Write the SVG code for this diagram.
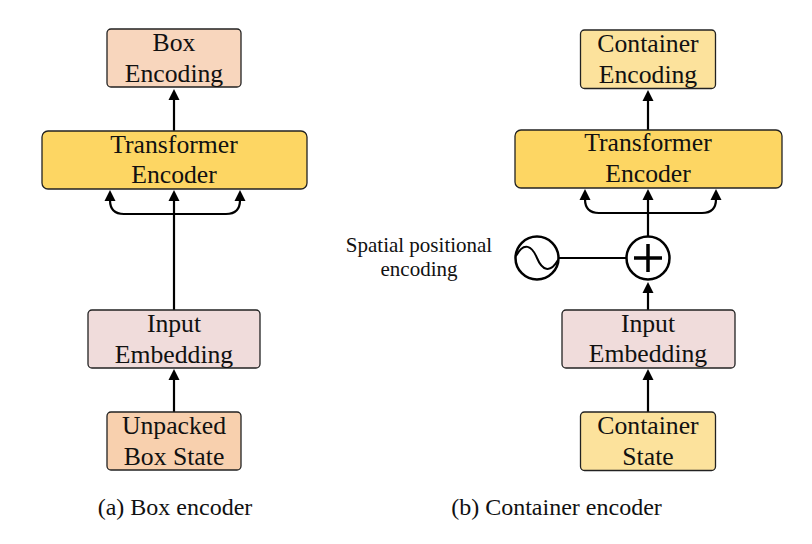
<svg xmlns="http://www.w3.org/2000/svg" width="812" height="544" viewBox="0 0 812 544">
<style>
.b{stroke:#222;stroke-width:1.3}
.t{font-family:"Liberation Serif",serif;font-size:25.7px;fill:#111;text-anchor:middle}
.c{font-family:"Liberation Serif",serif;font-size:24px;fill:#111;text-anchor:middle}
.s{font-family:"Liberation Serif",serif;font-size:21px;fill:#111;text-anchor:middle}
.l{fill:none;stroke:#000;stroke-width:2.2}
</style>
<rect width="812" height="544" fill="#fff"/>
<g id="connectors">
<path class="l" d="M174 131V95"/>
<path class="l" d="M174 310V197"/>
<path class="l" d="M174 412V375"/>
<path class="l" d="M174 214H124Q110 214 110 200V197M174 214H226Q240 214 240 200V197"/>
<path class="l" d="M648 130V95"/>
<path class="l" d="M648 236V195"/>
<path class="l" d="M648 310V288"/>
<path class="l" d="M648 412V375"/>
<path class="l" d="M648 213H599Q585 213 585 199V195M648 213H702Q716 213 716 199V195"/>
<path class="l" d="M558 258H626"/>
<g fill="#000"><path d="M174 89l5.500 11h-11z"/><path d="M174 190l5.500 11h-11z"/><path d="M110 190l5.500 11h-11z"/><path d="M240 190l5.500 11h-11z"/><path d="M174 369l5.500 11h-11z"/>
<path d="M648 90l5.500 11h-11z"/><path d="M648 189l5.500 11h-11z"/><path d="M585 189l5.500 11h-11z"/><path d="M716 189l5.500 11h-11z"/><path d="M648 282l5.500 11h-11z"/><path d="M648 369l5.500 11h-11z"/></g>
</g>
<g id="box-encoding"><rect class="b" x="107" y="29" width="134" height="58" rx="4" fill="#f8d6bd"/><text class="t" x="174" y="51">Box</text><text class="t" x="174" y="82">Encoding</text></g>
<g id="transformer-a"><rect class="b" x="42" y="131" width="265" height="58" rx="6" fill="#fdd663"/><text class="t" x="174" y="153">Transformer</text><text class="t" x="174" y="183">Encoder</text></g>
<g id="input-a"><rect class="b" x="88" y="310" width="172" height="58" rx="4" fill="#f0dcdb"/><text class="t" x="174" y="332">Input</text><text class="t" x="174" y="363">Embedding</text></g>
<g id="unpacked"><rect class="b" x="107" y="412" width="134" height="58" rx="4" fill="#f8d0ae"/><text class="t" x="174" y="434">Unpacked</text><text class="t" x="174" y="465">Box State</text></g>
<g id="container-encoding"><rect class="b" x="580.500" y="30" width="135" height="58.500" rx="4" fill="#fce29c"/><text class="t" x="648" y="52">Container</text><text class="t" x="648" y="83">Encoding</text></g>
<g id="transformer-b"><rect class="b" x="515" y="130" width="267" height="58" rx="6" fill="#fdd663"/><text class="t" x="648" y="151">Transformer</text><text class="t" x="648" y="182">Encoder</text></g>
<g id="input-b"><rect class="b" x="562" y="310" width="173" height="58" rx="4" fill="#f0dcdb"/><text class="t" x="648" y="332">Input</text><text class="t" x="648" y="362">Embedding</text></g>
<g id="container-state"><rect class="b" x="580.500" y="412" width="135" height="58.500" rx="4" fill="#fce29c"/><text class="t" x="648" y="434">Container</text><text class="t" x="648" y="465">State</text></g>
<g id="sine"><circle cx="537" cy="258" r="21.500" fill="#fff" stroke="#000" stroke-width="2.500"/><path d="M516 256C524 241 532 246 537 258S550 274 558 260" fill="none" stroke="#000" stroke-width="2"/></g>
<g id="adder"><circle cx="648" cy="258" r="21.500" fill="#fff" stroke="#000" stroke-width="2.500"/><path d="M648 244V272M634 258H662" stroke="#000" stroke-width="3.500" fill="none"/></g>
<text class="s" x="419" y="252">Spatial positional</text>
<text class="s" x="419" y="276">encoding</text>
<text class="c" x="175" y="515">(a) Box encoder</text>
<text class="c" x="556.500" y="515">(b) Container encoder</text>
</svg>
